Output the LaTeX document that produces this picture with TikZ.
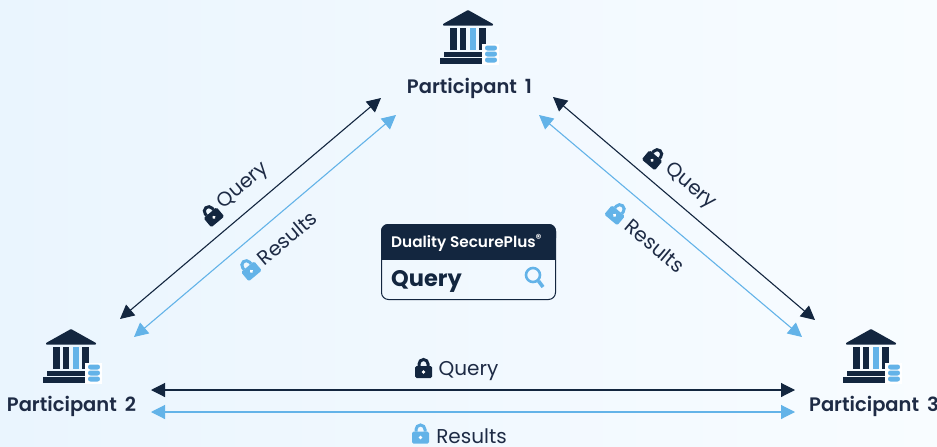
\documentclass[tikz,border=0pt]{standalone}
\usepackage{fontspec}
\setmainfont{Poppins}
\newfontfamily\semibd{Poppins SemiBold}
\usetikzlibrary{arrows.meta}
\definecolor{navy}{HTML}{13263F}
\definecolor{sky}{HTML}{63B3E8}
\definecolor{inktext}{HTML}{1E2B45}
\definecolor{bgleft}{HTML}{EAF5FE}
\definecolor{bgright}{HTML}{F8FCFF}
\tikzset{
  x=1pt,y=-1pt,
  darkline/.style={draw=navy,line width=1.1pt,{Triangle[length=14pt,width=14pt]}-{Triangle[length=14pt,width=14pt]}},
  blueline/.style={draw=sky,line width=1.1pt,{Triangle[length=14pt,width=14pt]}-{Triangle[length=14pt,width=14pt]}},
  partlabel/.style={inner sep=0pt,text=inktext,font=\fontsize{19.5}{21}\selectfont\semibd},
  edgelabel/.style={inner sep=0pt,text=inktext,font=\fontsize{20}{22}\selectfont},
  pics/lockicon/.style={code={
    \draw[#1,line width=3pt] (-4.5,-3) -- (-4.5,-5) arc[start angle=180,end angle=360,radius=4.5] -- (4.5,-3);
    \fill[#1,rounded corners=1.5pt] (-8.5,-3) rectangle (8.5,9);
    \fill[white] (0,3) circle[radius=1.8];
  }},
  pics/bankicon/.style={code={
    \fill[navy,rounded corners=0.6pt] (0,0) -- (25,14) -- (25,15.5) -- (-25,15.5) -- (-25,14) -- cycle;
    \fill[navy] (-18,18) rectangle (-11,40);
    \fill[navy] (-8.5,18) rectangle (-2,40);
    \fill[sky] (2,18) rectangle (8,40);
    \fill[navy] (11,18) rectangle (18,40);
    \fill[navy] (-24,42) rectangle (15,47);
    \fill[navy] (-28,48) rectangle (15,54);
    \fill[white] (14,34) rectangle (31,55);
    \foreach \yy in {35.5,41.5,47.5}
      \fill[sky,rounded corners=2.4pt] (17,\yy) rectangle (29,\yy+5);
  }},
}
\begin{document}
\begin{tikzpicture}
\useasboundingbox (0,0) rectangle (937,447);
\shade[left color=bgleft,right color=bgright] (0,0) rectangle (937,447);

% participants
\pic at (468,10) {bankicon};
\pic at (71,329) {bankicon};
\pic at (871,329) {bankicon};
\node[partlabel] (p1) at (469.5,88) {Participant\hspace{8pt}1};
\node[partlabel] (p2) at (71.5,406) {Participant\hspace{8pt}2};
\node[partlabel] (p3) at (874,406) {Participant\hspace{8pt}3};

% connector ends
\coordinate (a1) at (381,98);  \coordinate (a2) at (120,319);
\coordinate (b1) at (396,115); \coordinate (b2) at (134,337);
\coordinate (c1) at (553,97);  \coordinate (c2) at (815,320);
\coordinate (d1) at (539,115); \coordinate (d2) at (802,337);
\coordinate (e1) at (151,390); \coordinate (e2) at (795,390);
\coordinate (f1) at (151,412); \coordinate (f2) at (795,412);
\draw[darkline] (a1) -- (a2);
\draw[blueline] (b1) -- (b2);
\draw[darkline] (c1) -- (c2);
\draw[blueline] (d1) -- (d2);
\draw[darkline] (e1) -- (e2);
\draw[blueline] (f1) -- (f2);

% edge labels
\pic[rotate=40] at (212,215) {lockicon=navy};
\node[edgelabel,rotate=40] (q12) at (243.5,186.5) {Query};
\pic[rotate=40] at (249.5,269) {lockicon=sky};
\node[edgelabel,rotate=40] (r12) at (287,238) {Results};
\pic[rotate=-40] at (654,158) {lockicon=navy};
\node[edgelabel,rotate=-40] (q13) at (690,186.5) {Query};
\pic[rotate=-40] at (616.5,213) {lockicon=sky};
\node[edgelabel,rotate=-40] (r13) at (655,246) {Results};
\pic at (423.5,369) {lockicon=navy};
\node[edgelabel] (q23) at (468.5,371) {Query};
\pic at (420.5,434.5) {lockicon=sky};
\node[edgelabel] (r23) at (471.5,436) {Results};

% badge
\fill[navy,rounded corners=7pt] (381,224) rectangle (556,245);
\fill[navy] (381,235) rectangle (556,260);
\draw[navy,line width=1pt,rounded corners=7pt] (381.5,224.5) rectangle (555.5,299.5);
\node[inner sep=0pt,text=white,anchor=west,font=\fontsize{15.3}{18}\selectfont\semibd] (brand) at (391,243) {Duality SecurePlus\raisebox{5pt}{\fontsize{11.5}{11.5}\selectfont ®}};
\node[inner sep=0pt,text=navy,anchor=west,font=\fontsize{22.5}{24}\selectfont\bfseries] (qry) at (391,281) {Query};
\draw[sky,line width=2.6pt] (533,275) circle[radius=7];
\draw[sky,line width=3.6pt] (538.5,281) -- (543,287);
\end{tikzpicture}
\end{document}
